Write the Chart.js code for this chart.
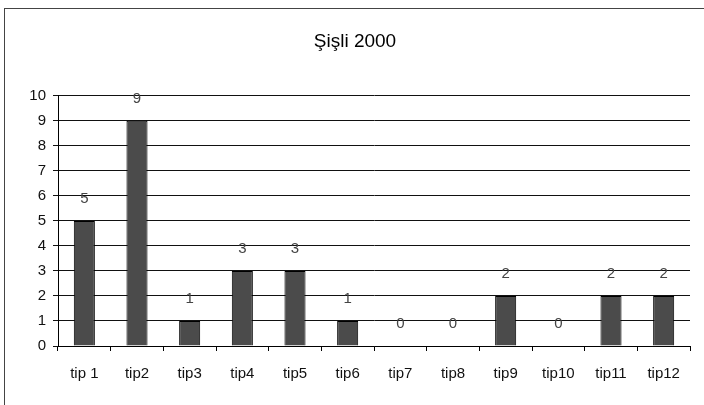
<!DOCTYPE html>
<html>
<head>
<meta charset="utf-8">
<script src="https://cdn.jsdelivr.net/npm/chart.js@4"></script>
<style>
  html, body { margin: 0; padding: 0; background: #fff; }
  #wrap { width: 704px; height: 405px; position: relative; }
</style>
</head>
<body>
<div id="wrap"><canvas id="myChart" width="704" height="405"></canvas></div>
<script>
const ctx = document.getElementById('myChart');

const chartTitle = 'Şişli 2000';
const categories = ['tip 1', 'tip2', 'tip3', 'tip4', 'tip5', 'tip6', 'tip7', 'tip8', 'tip9', 'tip10', 'tip11', 'tip12'];
const counts = [5, 9, 1, 3, 3, 1, 0, 0, 2, 0, 2, 2];
const yTicks = [0, 1, 2, 3, 4, 5, 6, 7, 8, 9, 10];

const fontFam = '"Liberation Sans", Arial, sans-serif';

// outer frame of the old excel chart
const framePlugin = {
  id: 'frame',
  beforeDraw(chart) {
    const c = chart.ctx;
    c.save();
    c.fillStyle = '#fff';
    c.fillRect(0, 0, chart.width, chart.height);
    c.strokeStyle = '#444';
    c.lineWidth = 1;
    c.strokeRect(4.5, 8.5, 720, 420);
    c.restore();
  }
};

// value labels sit one unit above the bar
const valueLabels = {
  id: 'valueLabels',
  afterDatasetsDraw(chart) {
    const c = chart.ctx;
    const meta = chart.getDatasetMeta(0);
    const yScale = chart.scales.y;
    c.save();
    c.font = '15px ' + fontFam;
    c.fillStyle = '#444';
    c.textAlign = 'center';
    c.textBaseline = 'middle';
    meta.data.forEach((bar, i) => {
      const v = counts[i];
      const y = yScale.getPixelForValue(v + 1) + 3;
      c.fillText(String(v), bar.x, y);
    });
    c.restore();
  }
};

new Chart(ctx, {
  type: 'bar',
  data: {
    labels: categories,
    datasets: [{
      label: chartTitle,
      data: counts,
      backgroundColor: '#4b4b4b',
      borderColor: '#000',
      borderWidth: 1,
      categoryPercentage: 1,
      barPercentage: 0.4
    }]
  },
  options: {
    responsive: false,
    animation: false,
    layout: {
      padding: { left: 20, right: 14, top: 0, bottom: 0 }
    },
    plugins: {
      legend: { display: false },
      tooltip: { enabled: false },
      title: {
        display: true,
        text: chartTitle,
        color: '#000',
        font: { family: fontFam, size: 19, weight: 'normal' },
        padding: { top: 30, bottom: 43 }
      }
    },
    scales: {
      x: {
        grid: {
          display: true,
          drawOnChartArea: false,
          drawTicks: true,
          tickLength: 5,
          color: '#000',
          offset: true
        },
        border: { display: true, color: '#000', width: 1 },
        ticks: {
          color: '#111',
          padding: 14,
          font: { family: fontFam, size: 15 }
        },
        afterFit(scale) { scale.height = 59; }
      },
      y: {
        min: 0,
        max: 10,
        afterBuildTicks(scale) {
          scale.ticks = yTicks.map(v => ({ value: v }));
        },
        grid: {
          color: '#111',
          tickLength: 5,
          lineWidth: 1
        },
        border: { display: true, color: '#000', width: 1 },
        ticks: {
          color: '#111',
          padding: 7,
          font: { family: fontFam, size: 15 }
        },
        afterFit(scale) { scale.width = 38; }
      }
    }
  },
  plugins: [framePlugin, valueLabels]
});
</script>
</body>
</html>
